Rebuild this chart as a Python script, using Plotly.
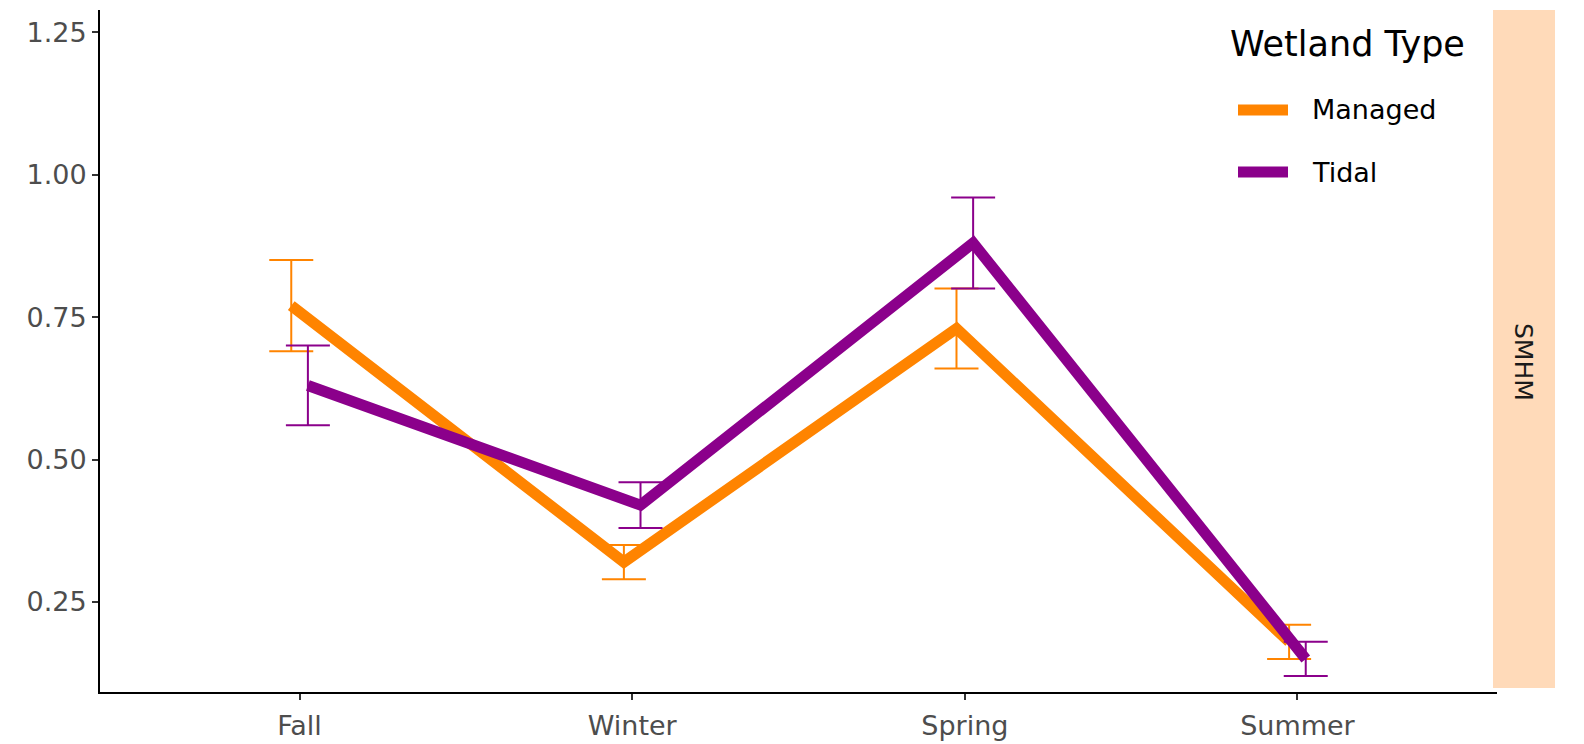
import plotly.graph_objects as go

seasons = ["Fall", "Winter", "Spring", "Summer"]
managed_mean = [0.77, 0.32, 0.73, 0.18]
managed_lo = [0.69, 0.29, 0.66, 0.15]
managed_hi = [0.85, 0.35, 0.80, 0.21]
tidal_mean = [0.63, 0.42, 0.88, 0.15]
tidal_lo = [0.56, 0.38, 0.80, 0.12]
tidal_hi = [0.70, 0.46, 0.96, 0.18]
y_ticks = [0.25, 0.50, 0.75, 1.00, 1.25]
series_names = ["Managed", "Tidal"]
series_colors = ["#FF8400", "#8B008B"]
facet_label = "SMHM"
legend_title = "Wetland Type"

W, H = 1584, 744
L, R, T, B = 100, 87, 10, 52
FONT = "DejaVu Sans"
DODGE = 0.025


def px(x):
    return (x - L) / (W - L - R)


def py(y):
    return (H - B - y) / (H - T - B)


fig = go.Figure()
groups = [
    (managed_mean, managed_lo, managed_hi, -DODGE),
    (tidal_mean, tidal_lo, tidal_hi, DODGE),
]
for (mean, lo, hi, off), name, color in zip(groups, series_names, series_colors):
    xs = [i + 1 + off for i in range(len(seasons))]
    fig.add_trace(go.Scatter(
        x=xs, y=mean, mode="lines", name=name,
        line=dict(color=color, width=11),
        showlegend=False,
    ))
    fig.add_trace(go.Scatter(
        x=xs, y=mean, mode="markers", name=name,
        marker=dict(size=1, color=color, opacity=0),
        error_y=dict(
            type="data", symmetric=False,
            array=[h - m for h, m in zip(hi, mean)],
            arrayminus=[m - l for m, l in zip(mean, lo)],
            color=color, thickness=2, width=22,
        ),
        showlegend=False,
    ))

shapes = []
annotations = []

# facet strip on the right
shapes.append(dict(
    type="rect", xref="paper", yref="paper",
    x0=px(1493), x1=px(1555), y0=py(688), y1=py(10),
    fillcolor="#FFDAB9", line=dict(width=0), layer="below",
))
annotations.append(dict(
    xref="paper", yref="paper", x=px(1524), y=py(362),
    text=facet_label, textangle=90, showarrow=False,
    font=dict(family=FONT, size=25, color="#1A1A1A"),
    xanchor="center", yanchor="middle",
))

# legend
annotations.append(dict(
    xref="paper", yref="paper", x=px(1228), y=py(44),
    text=legend_title, showarrow=False,
    font=dict(family=FONT, size=35, color="#000000"),
    xanchor="left", yanchor="middle",
))
for k, (name, color) in enumerate(zip(series_names, series_colors)):
    yk = 110 + 62 * k
    shapes.append(dict(
        type="line", xref="paper", yref="paper",
        x0=px(1238), x1=px(1288), y0=py(yk), y1=py(yk),
        line=dict(color=color, width=11),
    ))
    annotations.append(dict(
        xref="paper", yref="paper", x=px(1310), y=py(yk),
        text=name, showarrow=False,
        font=dict(family=FONT, size=27, color="#000000"),
        xanchor="left", yanchor="middle",
    ))

fig.update_layout(
    width=W, height=H,
    margin=dict(l=L, r=R, t=T, b=B, autoexpand=False),
    paper_bgcolor="white", plot_bgcolor="white",
    shapes=shapes, annotations=annotations,
    showlegend=False,
)
fig.update_xaxes(
    range=[0.4, 4.6], automargin=False,
    tickvals=[i + 1 for i in range(len(seasons))], ticktext=seasons,
    showgrid=False, zeroline=False,
    showline=True, linecolor="#000000", linewidth=2,
    ticks="outside", ticklen=6, tickwidth=1.5, tickcolor="#333333",
    ticklabelstandoff=3,
    tickfont=dict(family=FONT, size=27, color="#4D4D4D"),
)
fig.update_yaxes(
    range=[0.092, 1.289], automargin=False,
    tickvals=y_ticks, tickformat=".2f",
    showgrid=False, zeroline=False,
    showline=True, linecolor="#000000", linewidth=2,
    ticks="outside", ticklen=6, tickwidth=1.5, tickcolor="#333333",
    tickfont=dict(family=FONT, size=27, color="#4D4D4D"),
)

fig.write_html("out.html")
